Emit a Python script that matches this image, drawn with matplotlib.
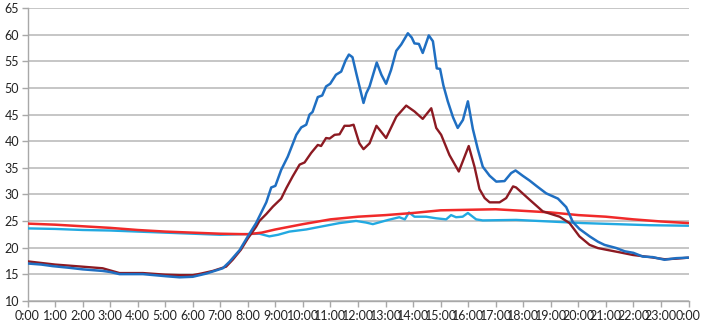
import matplotlib
matplotlib.use("Agg")
import matplotlib.pyplot as plt

# hours of the day (0-24) and readings for each series
blue_h = [0.0, 0.5, 0.92, 1.5, 2.0, 2.73, 3.0, 3.34, 4.19, 5.04, 5.52, 6.0, 6.49, 7.09, 7.33,
          7.7, 8.0, 8.3, 8.67, 8.85, 9.0, 9.21, 9.45, 9.76, 9.94, 10.12, 10.24, 10.35, 10.54,
          10.7, 10.84, 10.99, 11.2, 11.39, 11.55, 11.67, 11.8, 11.95, 12.2, 12.3, 12.42, 12.68,
          12.85, 13.02, 13.2, 13.39, 13.57, 13.81, 13.95, 14.05, 14.21, 14.35, 14.57, 14.72,
          14.86, 14.98, 15.1, 15.26, 15.45, 15.62, 15.81, 15.99, 16.17, 16.35, 16.53, 16.78,
          17.02, 17.32, 17.56, 17.72, 17.98, 18.23, 18.5, 18.83, 19.26, 19.56, 19.8, 20.04,
          20.41, 20.71, 20.95, 21.38, 21.68, 22.0, 22.34, 22.7, 23.13, 23.55, 24.0]
blue_v = [17.0, 16.8, 16.5, 16.2, 15.9, 15.6, 15.4, 15.0, 15.0, 14.6, 14.4, 14.5, 15.1, 16.1, 17.3,
          19.5, 22.1, 24.6, 28.5, 31.3, 31.6, 34.6, 37.1, 41.2, 42.6, 43.1, 45.0, 45.5, 48.3,
          48.6, 50.3, 50.8, 52.5, 53.1, 55.2, 56.3, 55.8, 52.5, 47.2, 49.0, 50.3, 54.8,
          52.5, 50.8, 53.4, 57.0, 58.2, 60.3, 59.5, 58.4, 58.3, 56.6, 59.9, 58.8,
          53.7, 53.6, 50.5, 47.5, 44.5, 42.5, 44.0, 47.5, 42.3, 38.5, 35.2, 33.5,
          32.4, 32.5, 34.0, 34.5, 33.5, 32.6, 31.5, 30.2, 29.2, 27.6, 24.8, 23.5,
          22.1, 21.1, 20.5, 19.9, 19.3, 19.0, 18.3, 18.2, 17.7, 18.0, 18.1]

darkred_h = [0.0, 0.5, 1.0, 1.5, 2.0, 2.73, 3.0, 3.34, 4.19, 5.0, 5.52, 6.0, 6.3, 6.73, 7.21,
             7.45, 7.75, 8.0, 8.3, 8.42, 8.67, 8.91, 9.21, 9.4, 9.63, 9.88, 10.06, 10.3, 10.54,
             10.66, 10.84, 10.97, 11.15, 11.33, 11.51, 11.69, 11.84, 12.05, 12.2, 12.42, 12.67,
             13.02, 13.39, 13.75, 14.05, 14.35, 14.66, 14.84, 15.02, 15.32, 15.66, 16.02, 16.23,
             16.41, 16.6, 16.78, 17.14, 17.38, 17.63, 17.74, 18.23, 18.71, 19.32, 19.68, 20.04,
             20.41, 20.71, 21.0, 21.5, 21.98, 22.6, 23.13, 23.55, 24.0]
darkred_v = [17.4, 17.1, 16.8, 16.6, 16.4, 16.1, 15.7, 15.2, 15.2, 14.9, 14.8, 14.8, 15.1, 15.6, 16.4,
             17.7, 19.6, 21.7, 23.9, 25.0, 26.3, 27.7, 29.2, 31.2, 33.4, 35.6, 36.0, 37.8, 39.3,
             39.1, 40.6, 40.5, 41.2, 41.3, 42.9, 42.9, 43.1, 39.6, 38.5, 39.6, 42.9,
             40.6, 44.6, 46.7, 45.6, 44.2, 46.2, 42.5, 41.2, 37.4, 34.3, 39.1, 35.2,
             31.0, 29.3, 28.5, 28.5, 29.3, 31.5, 31.3, 29.0, 26.8, 25.8, 24.6, 22.1,
             20.5, 19.9, 19.6, 19.1, 18.6, 18.2, 17.8, 17.9, 18.1]

red_h = [0, 1, 2, 3, 4, 5, 6, 7, 8, 8.5, 9, 10, 11, 12, 13, 14, 15, 16, 17, 18, 19, 20, 21, 22, 23, 24]
red_v = [24.5, 24.3, 24.0, 23.7, 23.3, 23.0, 22.8, 22.6, 22.5, 22.8, 23.4, 24.4, 25.3, 25.8, 26.1,
         26.5, 27.0, 27.1, 27.2, 26.9, 26.6, 26.1, 25.8, 25.3, 24.9, 24.6]

light_h = [0, 1, 2, 3, 4, 5, 6, 7, 7.7, 8.42, 8.78, 9.1, 9.51, 10.12, 10.72, 11.33, 11.93, 12.29,
           12.54, 13.1, 13.5, 13.7, 13.85, 14.05, 14.47, 14.84, 15.2, 15.38, 15.56, 15.8, 15.99,
           16.29, 16.53, 17.74, 18.95, 20.16, 21.38, 22.6, 24]
light_v = [23.6, 23.5, 23.3, 23.2, 23.0, 22.8, 22.6, 22.4, 22.5, 22.6, 22.1, 22.4, 23.0, 23.4, 24.0,
           24.6, 25.0, 24.7, 24.4, 25.2, 25.7, 25.3, 26.6, 25.8, 25.8, 25.5, 25.3, 26.1, 25.7,
           25.8, 26.5, 25.3, 25.1, 25.2, 24.9, 24.6, 24.4, 24.2, 24.1]

tick_labels = ["%d:00" % h for h in range(24)] + ["0:00"]

plt.rcParams['font.family'] = ['Lato', 'DejaVu Sans']

fig = plt.figure(figsize=(7.09, 3.28), dpi=100)
ax = fig.add_axes([27.5 / 709, 1 - 300.7 / 328, 661 / 709, 292.4 / 328])

line_kw = dict(solid_joinstyle='round', solid_capstyle='round')
ax.plot(light_h, light_v, color='#22a9e1', lw=1.7, zorder=3, **line_kw)
ax.plot(red_h, red_v, color='#f02a2a', lw=1.8, zorder=4, **line_kw)
ax.plot(darkred_h, darkred_v, color='#8c1a22', lw=1.7, zorder=5, **line_kw)
ax.plot(blue_h, blue_v, color='#1f6fc2', lw=1.8, zorder=6, **line_kw)

ax.set_xlim(0, 24)
ax.set_ylim(10, 65)
ax.set_yticks(range(10, 66, 5))
ax.set_xticks(range(25))
ax.set_xticklabels(tick_labels)

ax.yaxis.grid(True, color='#b6b6b6', lw=1.1)
ax.set_axisbelow(True)
for side in ['top', 'right']:
    ax.spines[side].set_visible(False)
for side in ['left', 'bottom']:
    ax.spines[side].set_color('#a8a8a8')
    ax.spines[side].set_linewidth(1.0)

ax.tick_params(axis='both', colors='#a8a8a8', labelcolor='#222222', length=4, width=1.0,
               labelsize=9, pad=2)
ax.tick_params(axis='x', pad=3)

fig.savefig('out.png', dpi=100)
